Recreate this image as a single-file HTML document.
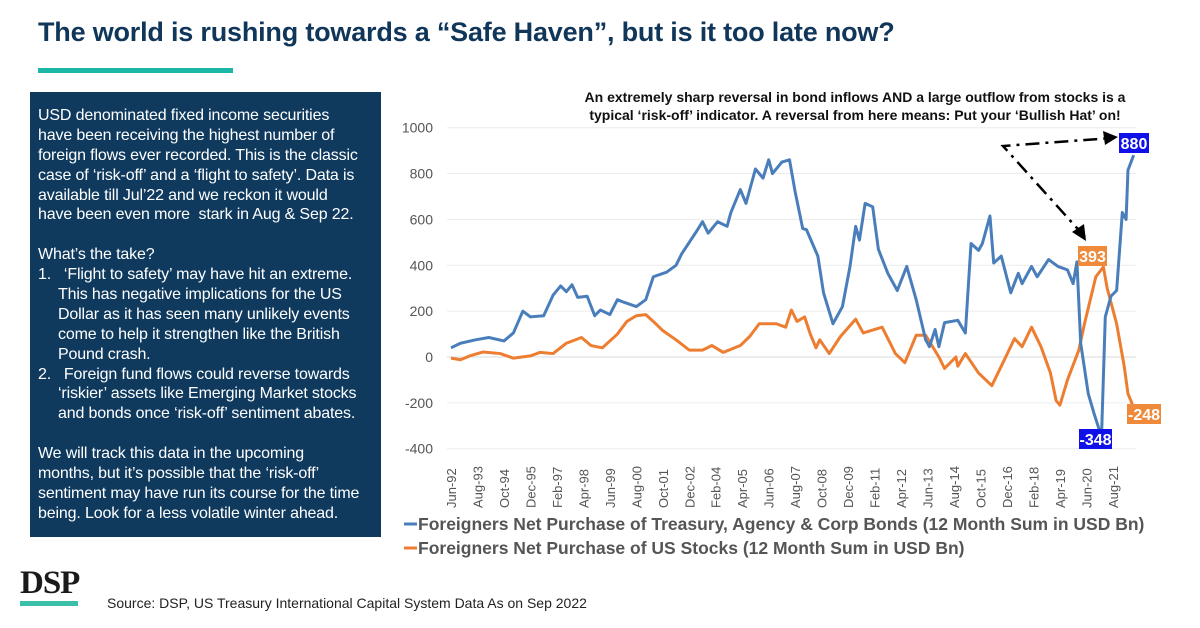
<!DOCTYPE html>
<html><head><meta charset="utf-8">
<style>
html,body{margin:0;padding:0;background:#fff;}
body{width:1200px;height:628px;position:relative;overflow:hidden;font-family:"Liberation Sans",sans-serif;}
#title{position:absolute;left:38px;top:17px;font-size:27px;font-weight:bold;color:#10365a;letter-spacing:-0.2px;white-space:nowrap;}
#bar{position:absolute;left:38px;top:68px;width:195px;height:5px;background:#1bb7a6;}
#panel{position:absolute;left:30px;top:92px;width:351px;height:445px;background:#0f3a5e;color:#fff;font-size:16px;line-height:19.9px;box-sizing:border-box;padding:14px 2px 0 8px;white-space:nowrap;letter-spacing:-0.15px;overflow:hidden;}
#panel div{height:19.9px;}
#panel .ind{padding-left:20px;}
#logo{position:absolute;left:20px;top:566px;font-family:"Liberation Serif",serif;font-weight:bold;font-size:33px;color:#1a1a1a;letter-spacing:-1px;line-height:34px;}
#logobar{position:absolute;left:20px;top:601px;width:58px;height:5px;background:#3bbfa8;}
#source{position:absolute;left:107px;top:595px;font-size:14px;color:#222;}
</style></head><body>
<div id="title">The world is rushing towards a “Safe Haven”, but is it too late now?</div>
<div id="bar"></div>
<div id="panel">
<div>USD denominated fixed income securities</div>
<div>have been receiving the highest number of</div>
<div>foreign flows ever recorded. This is the classic</div>
<div>case of ‘risk-off’ and a ‘flight to safety’. Data is</div>
<div>available till Jul’22 and we reckon it would</div>
<div>have been even more&nbsp; stark in Aug &amp; Sep 22.</div>
<div></div>
<div>What’s the take?</div>
<div>1.&nbsp;&nbsp; ‘Flight to safety’ may have hit an extreme.</div>
<div class="ind">This has negative implications for the US</div>
<div class="ind">Dollar as it has seen many unlikely events</div>
<div class="ind">come to help it strengthen like the British</div>
<div class="ind">Pound crash.</div>
<div>2.&nbsp;&nbsp; Foreign fund flows could reverse towards</div>
<div class="ind">‘riskier’ assets like Emerging Market stocks</div>
<div class="ind">and bonds once ‘risk-off’ sentiment abates.</div>
<div></div>
<div>We will track this data in the upcoming</div>
<div>months, but it’s possible that the ‘risk-off’</div>
<div>sentiment may have run its course for the time</div>
<div>being. Look for a less volatile winter ahead.</div>
</div>
<div id="logo">DSP</div>
<div id="logobar"></div>
<div id="source">Source: DSP, US Treasury International Capital System Data As on Sep 2022</div>

<svg id="chart" width="1200" height="628" style="position:absolute;left:0;top:0" xmlns="http://www.w3.org/2000/svg"></svg>

<script>
const yTicks=[1000,800,600,400,200,0,-200,-400];
const xLabels=["Jun-92","Aug-93","Oct-94","Dec-95","Feb-97","Apr-98","Jun-99","Aug-00","Oct-01","Dec-02","Feb-04","Apr-05","Jun-06","Aug-07","Oct-08","Dec-09","Feb-11","Apr-12","Jun-13","Aug-14","Oct-15","Dec-16","Feb-18","Apr-19","Jun-20","Aug-21"];
const bondMonths=[0,5,13,20,28,33,38,42,49,54,58,61,64,67,72,76,79,84,88,91,98,103,107,114,119,122,130,133,136,141,146,148,153,156,161,165,168,170,175,179,182,186,188,194,197,202,207,211,214,216,219,223,226,231,236,241,246,251,253,256,258,261,268,272,275,279,281,285,287,291,296,300,302,307,310,316,321,326,329,331,333,337,340,344,346,349,352,355,357,358,361];
const bondValues=[40,60,75,85,70,105,200,175,180,270,310,285,315,260,265,180,205,185,250,240,220,250,350,370,400,450,550,590,540,590,570,630,730,670,820,780,860,800,850,860,720,560,555,440,280,145,220,395,570,510,670,655,470,365,290,395,250,75,45,120,45,150,160,105,495,465,495,615,410,440,280,365,320,395,350,425,395,380,320,415,60,-160,-245,-348,175,265,290,630,600,815,880];
const stockMonths=[0,5,10,17,26,33,42,47,54,61,69,74,80,88,93,98,103,107,112,119,126,133,138,144,153,158,163,172,177,180,183,187,190,193,195,200,206,214,218,228,235,240,246,251,258,261,267,268,272,279,286,291,298,302,307,312,317,320,322,326,332,335,341,345,347,352,356,358,360,361];
const stockValues=[-5,-12,5,22,15,-5,5,20,15,60,85,50,40,100,155,180,185,155,115,75,30,30,50,20,50,90,145,145,130,205,155,175,100,40,75,15,90,165,105,130,15,-25,95,95,0,-50,0,-40,15,-70,-125,-40,80,45,130,45,-70,-190,-210,-100,30,145,350,393,300,145,-40,-160,-200,-248];

const svg=document.getElementById('chart');
const NS='http://www.w3.org/2000/svg';
const X0=451, PX_PER_M=1.891, Y0=357, PX_PER_V=0.2293;
const xs=m=>X0+m*PX_PER_M;
const ys=v=>Y0-v*PX_PER_V;
function mk(t,a){const e=document.createElementNS(NS,t);for(const k in a)e.setAttribute(k,a[k]);svg.appendChild(e);return e;}

yTicks.forEach(v=>{
  const g=mk('line',{x1:447,x2:1136,y1:ys(v),y2:ys(v),stroke:'#ececec','stroke-width':1});
  
  
  const t=mk('text',{x:433,y:ys(v)+5,'text-anchor':'end','font-size':14,fill:'#555','font-family':'Liberation Sans, sans-serif'});
  t.textContent=v;
  
  
});
const ax=mk('line',{x1:447,x2:1136,y1:ys(0),y2:ys(0),stroke:'#d9d9d9','stroke-width':1});


xLabels.forEach((l,i)=>{
  const x=xs(i*14);
  const t=mk('text',{transform:`translate(${x+5},508) rotate(-90)`,'font-size':13,fill:'#555','font-family':'Liberation Sans, sans-serif'});
  t.textContent=l;
  
  
});
function line(ms,vs,color,name){
  const p=mk('polyline',{points:ms.map((m,i)=>xs(m)+','+ys(vs[i])).join(' '),fill:'none',stroke:color,'stroke-width':3,'stroke-linejoin':'round'});
  
  
}
line(stockMonths,stockValues,'#ed7d31','stocks-line');
line(bondMonths,bondValues,'#4a7ebb','bonds-line');

function box(x,y,w,txt,fill,name){
  const r=mk('rect',{x:x,y:y,width:w,height:20,fill:fill});
  
  
  const t=mk('text',{x:x+w/2,y:y+16,'text-anchor':'middle','font-size':16,'font-weight':'bold',fill:'#fff','font-family':'Liberation Sans, sans-serif'});
  t.textContent=txt;
  
  
}
box(1119,133,30,'880','#1010e8','label-880');
box(1079,429,33,'-348','#1010e8','label-348');
box(1078,246,29,'393','#ee8a3a','label-393');
box(1127,404,34,'-248','#ee8a3a','label-248');

const d1=mk('polyline',{points:'1085,237 1003,146 1112,138',fill:'none',stroke:'#000','stroke-width':2.5,'stroke-dasharray':'14,6,3,6'});


const a1=mk('polygon',{points:'1118,137 1103,131 1105,145',fill:'#000'});


const a2=mk('polygon',{points:'1086,241 1072,232 1084,224',fill:'#000'});



[['An extremely sharp reversal in bond inflows AND a large outflow from stocks is a',102],['typical ‘risk-off’ indicator. A reversal from here means: Put your ‘Bullish Hat’ on!',120]].forEach(([s,y])=>{
  const t=mk('text',{x:855,y:y,'text-anchor':'middle','font-size':14,'font-weight':'bold',fill:'#111','font-family':'Liberation Sans, sans-serif'});
  t.textContent=s;
  
  
});

[['Foreigners Net Purchase of Treasury, Agency & Corp Bonds (12 Month Sum in USD Bn)','#4a7ebb',530],['Foreigners Net Purchase of US Stocks (12 Month Sum in USD Bn)','#ed7d31',554]].forEach(([s,c,y])=>{
  const l=mk('line',{x1:404,x2:417,y1:y-6,y2:y-6,stroke:c,'stroke-width':3});
  
  
  const t=mk('text',{x:418,y:y,'font-size':17.5,'font-weight':'bold',fill:'#555','font-family':'Liberation Sans, sans-serif'});
  t.textContent=s;
  
  
});
</script>
</body></html>
